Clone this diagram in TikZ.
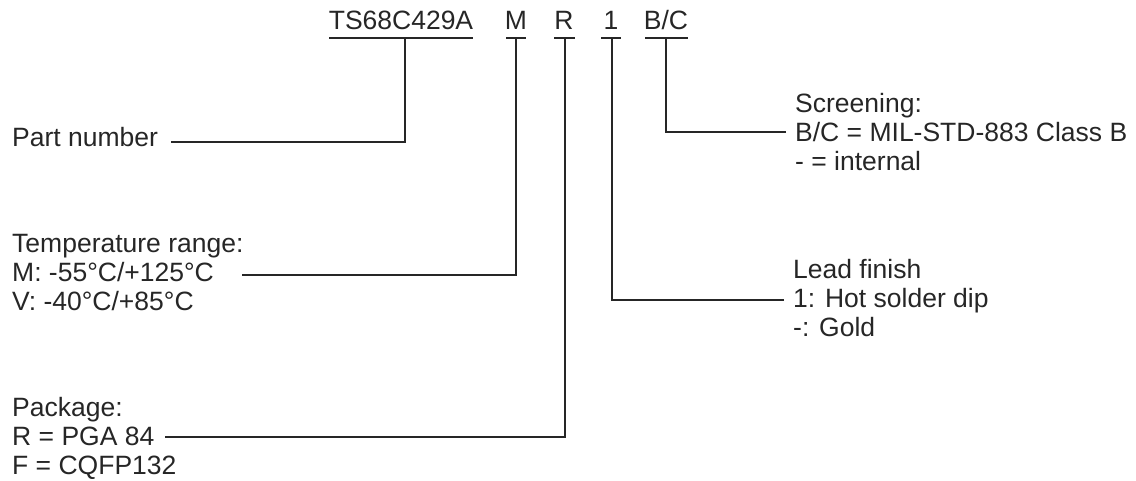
\documentclass[tikz,border=0pt]{standalone}
\usepackage{fontspec}
\setmainfont{Liberation Sans}
\begin{document}
\begin{tikzpicture}[x=1pt,y=-1pt,
  lbl/.style={anchor=base west,inner sep=0pt,font=\fontsize{26.5}{29}\selectfont,text=black!85},
  code/.style={anchor=base,inner sep=0pt,font=\fontsize{26.5}{29}\selectfont,text=black!85},
  ln/.style={line width=2.4pt,draw=black!85},
  ul/.style={line width=2.4pt,draw=black!85}]
\useasboundingbox (0,0) rectangle (1136,480);
% top code
\node[code] (pn) at (401,29) {TS68C429A};
\node[code] (cm) at (516,29) {M};
\node[code] (cr) at (564,29) {R};
\node[code] (c1) at (611,29) {1};
\node[code] (cbc) at (666,29) {B/C};
% underlines
\coordinate (u1a) at (329,38); \coordinate (u1b) at (473,38);
\coordinate (u2a) at (506,38); \coordinate (u2b) at (526,38);
\coordinate (u3a) at (554,38); \coordinate (u3b) at (575,38);
\coordinate (u4a) at (601,38); \coordinate (u4b) at (621,38);
\coordinate (u5a) at (645,38); \coordinate (u5b) at (688,38);
\draw[ul] (u1a) -- (u1b);
\draw[ul] (u2a) -- (u2b);
\draw[ul] (u3a) -- (u3b);
\draw[ul] (u4a) -- (u4b);
\draw[ul] (u5a) -- (u5b);
% ticks
\coordinate (t1) at (405,38);
\coordinate (t2) at (516,38);
\coordinate (t3) at (565,38);
\coordinate (t4) at (612,38);
\coordinate (t5) at (666,38);
% labels
\node[lbl] (partn) at (12,146) {Part number};
\node[lbl] (temp1) at (12,252) {Temperature range:};
\node[lbl] (temp2) at (12,281) {M: -55°C/+125°C};
\node[lbl] (temp3) at (12,310) {V: -40°C/+85°C};
\node[lbl] (pk1) at (12,416) {Package:};
\node[lbl] (pk2) at (12,445) {R = PGA 84};
\node[lbl] (pk3) at (12,474) {F = CQFP132};
\node[lbl] (sc1) at (795,112) {Screening:};
\node[lbl] (sc2) at (795,141) {B/C = MIL-STD-883 Class B};
\node[lbl] (sc3) at (795,170) {- = internal};
\node[lbl] (ld1) at (793,278) {Lead finish};
\node[lbl] (ld2) at (793,307) {1: Hot solder dip};
\node[lbl] (ld3) at (793,336) {-: Gold};
% connectors
\coordinate (e1) at (171,142);
\coordinate (e2) at (242,275);
\coordinate (e3) at (165,437);
\coordinate (e4) at (784,300);
\coordinate (e5) at (786,132);
\draw[ln] (e1) -| (t1);
\draw[ln] (e2) -| (t2);
\draw[ln] (e3) -| (t3);
\draw[ln] (e4) -| (t4);
\draw[ln] (e5) -| (t5);
\end{tikzpicture}
\end{document}
